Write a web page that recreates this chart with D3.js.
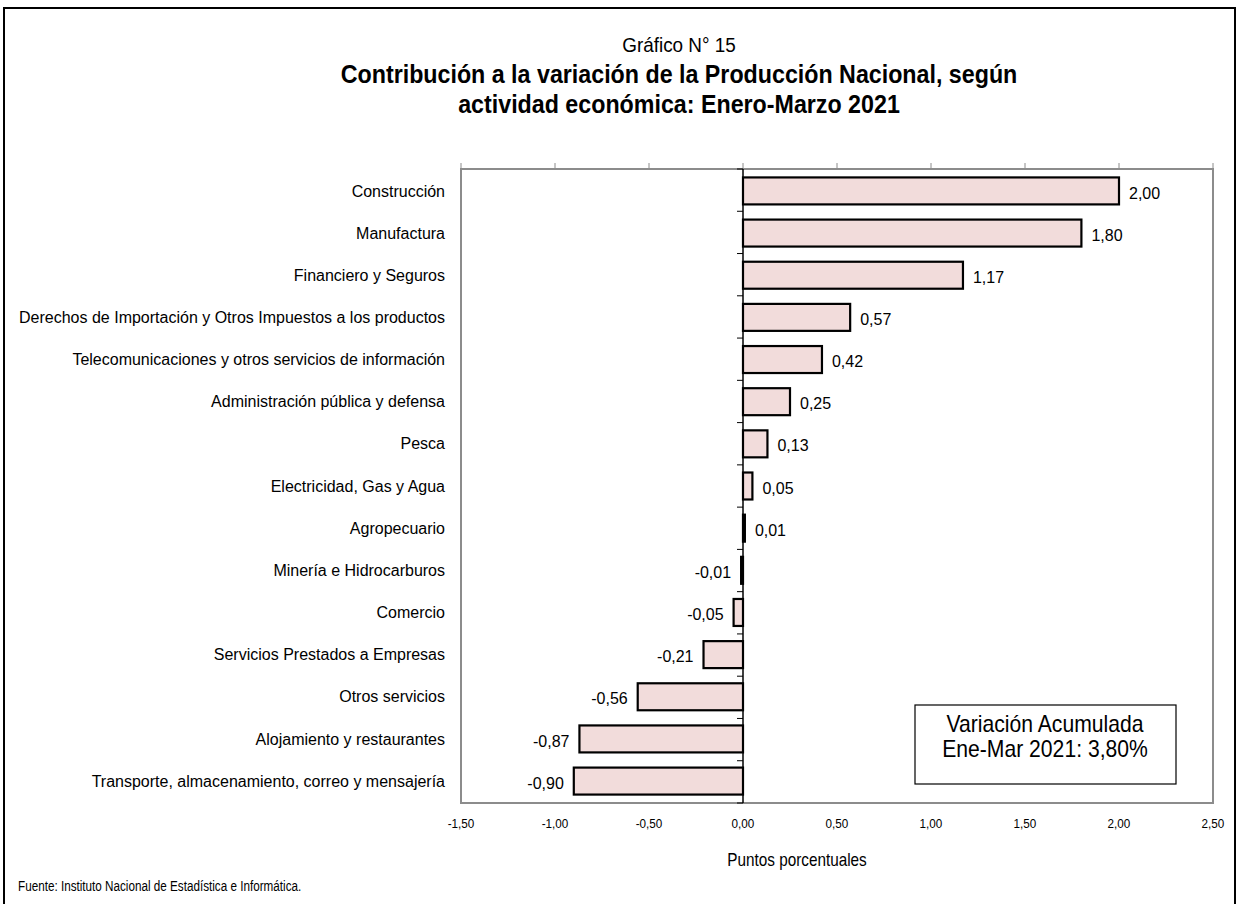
<!DOCTYPE html>
<html><head><meta charset="utf-8">
<script src="https://cdn.jsdelivr.net/npm/d3@7"></script>
<style>body{margin:0;background:#fff}svg text{font-family:"Liberation Sans Narrow","Arial Narrow","Liberation Sans",Arial,sans-serif}</style>
</head><body><svg id="c" width="1239" height="904"></svg>
<script>
const categories = ["Construcción","Manufactura","Financiero y Seguros","Derechos de Importación y Otros Impuestos a los productos","Telecomunicaciones y otros servicios de información ","Administración pública y defensa ","Pesca","Electricidad, Gas y Agua","Agropecuario","Minería e Hidrocarburos","Comercio","Servicios Prestados a Empresas","Otros servicios","Alojamiento y restaurantes ","Transporte, almacenamiento, correo y mensajería"];
const values = [2.00,1.80,1.17,0.57,0.42,0.25,0.13,0.05,0.01,-0.01,-0.05,-0.21,-0.56,-0.87,-0.90];
const tickValues = [-1.5,-1.0,-0.5,0,0.5,1.0,1.5,2.0,2.5];
const titleLines = ["Contribución a la variación de la Producción Nacional, según","actividad económica: Enero-Marzo 2021"];

const fmt = v => d3.format(".2f")(v).replace(".", ",").replace("−","-");
const svg = d3.select("#c");
const L=461,R=1213,T=169,B=803;
const x = d3.scaleLinear().domain([-1.5,2.5]).range([L,R]);
const y = d3.scaleBand().domain(categories).range([T,B]).paddingInner(0.36).paddingOuter(0.2);
const yb = d3.scaleBand().domain(categories).range([T,B]);

function ctext(xp, yp, size, sx, anchor, txt, weight){
  return svg.append("text").attr("transform",`translate(${xp},${yp}) scale(${sx},1)`)
    .attr("text-anchor",anchor).attr("font-size",size).attr("font-weight",weight||"normal").text(txt);
}

svg.append("rect").attr("x",4).attr("y",8).attr("width",1231).attr("height",900).attr("fill","none").attr("stroke","#000").attr("stroke-width",2);

ctext(679,52,21,0.9,"middle","Gráfico N° 15");
titleLines.forEach((t,i)=>ctext(679,83+i*30,25,0.93,"middle",t,"bold"));

svg.append("rect").attr("x",L).attr("y",T).attr("width",R-L).attr("height",B-T).attr("fill","none").attr("stroke","#8c8c8c").attr("stroke-width",2);
svg.append("g").selectAll("line").data(tickValues).join("line")
  .attr("x1",d=>x(d)).attr("x2",d=>x(d)).attr("y1",T-6).attr("y2",T).attr("stroke","#8c8c8c").attr("stroke-width",1);
svg.append("g").selectAll("text").data(tickValues).join("text")
  .attr("transform",d=>`translate(${x(d)},828) scale(0.9,1)`).attr("text-anchor","middle").attr("font-size",13).text(d=>fmt(d));
ctext(797,866,18,0.85,"middle","Puntos porcentuales");

svg.append("g").selectAll("rect").data(values).join("rect")
  .attr("x",(d)=>x(Math.min(0,d))).attr("y",(d,i)=>y(categories[i]))
  .attr("width",d=>Math.abs(x(d)-x(0))).attr("height",y.bandwidth())
  .attr("fill","#f2dcdb").attr("stroke","#000").attr("stroke-width",2.2);

svg.append("line").attr("x1",x(0)).attr("x2",x(0)).attr("y1",T).attr("y2",B).attr("stroke","#000").attr("stroke-width",1.5);
svg.append("g").selectAll("line").data(d3.range(categories.length+1)).join("line")
  .attr("x1",x(0)-6).attr("x2",x(0)).attr("y1",i=>T+i*yb.step()).attr("y2",i=>T+i*yb.step()).attr("stroke","#000").attr("stroke-width",1);

svg.append("g").selectAll("text").data(categories).join("text")
  .attr("x",445).attr("y",d=>y(d)+y.bandwidth()/2).attr("dy","0.35em").attr("text-anchor","end").attr("font-size",16).text(d=>d);

svg.append("g").selectAll("text").data(values).join("text")
  .attr("x",d=>d>=0?x(d)+10:x(d)-10).attr("y",(d,i)=>y(categories[i])+y.bandwidth()/2+2).attr("dy","0.35em")
  .attr("text-anchor",d=>d>=0?"start":"end").attr("font-size",16).text(d=>fmt(d));

svg.append("rect").attr("x",915).attr("y",705).attr("width",261).attr("height",79).attr("fill","#fff").attr("stroke","#000").attr("stroke-width",1.2);
ctext(1045,732,23,0.92,"middle","Variación Acumulada");
ctext(1045,757,23,0.92,"middle","Ene-Mar 2021: 3,80%");

ctext(18,891,15,0.78,"start","Fuente: Instituto Nacional de Estadística e Informática.");
</script></body></html>
